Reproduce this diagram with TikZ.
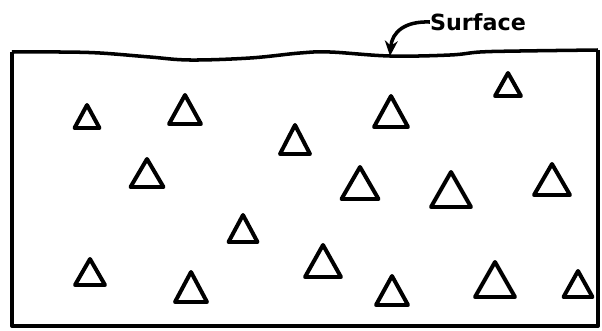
\documentclass[tikz,border=0pt]{standalone}
\usepackage{fontspec}
\newfontfamily\labelfont{DejaVu Sans}
\usetikzlibrary{arrows.meta}
\begin{document}
\begin{tikzpicture}[
  x=0.03cm, y=-0.03cm,
  tri/.style={draw=black, line width=3.4pt, line join=round},
  edge/.style={draw=black, line width=3.4pt, line join=round},
  lbl/.style={font=\labelfont\bfseries\fontsize{19}{21}\selectfont, inner sep=0pt},
  arr/.style={-{Stealth[length=13pt, width=11pt]}, line width=3pt}
]
  \useasboundingbox (0,0) rectangle (602,331);

  % Container with the wavy surface on top
  \draw[edge] (598,50) -- (598,326) -- (12,326) -- (12,52);
  \draw[edge, line width=3pt] plot[smooth, tension=0.6] coordinates {
    (12,52) (60,52) (100,53) (150,57) (190,60) (250,58) (300,53)
    (330,52) (390,56) (450,55) (480,52) (520,51) (598,50)};

  % Label and pointer
  \node[lbl] (surface) at (478,22) {Surface};
  \coordinate (surfpt) at (390,56);
  \draw[arr] (surface.west) .. controls (405,21) and (392,32) .. (surfpt);

  % Particles: base centre x / base y / width / height
  \foreach \x/\y/\w/\h in {87/128/25/23, 185/124/32/29, 147/187/33/28,
      295/154/30/29, 391/127/34/31, 508/96/26/23, 360/199/37/32,
      451/207/40/35, 552/195/36/31, 243/242/29/27, 90/285/30/26,
      191/302/32/30, 323/277/36/32, 392/305/32/29, 495/297/40/35,
      578/297/29/26} {
    \draw[tri] ({\x-\w/2},\y) -- (\x,{\y-\h}) -- ({\x+\w/2},\y) -- cycle;
  }
\end{tikzpicture}
\end{document}
